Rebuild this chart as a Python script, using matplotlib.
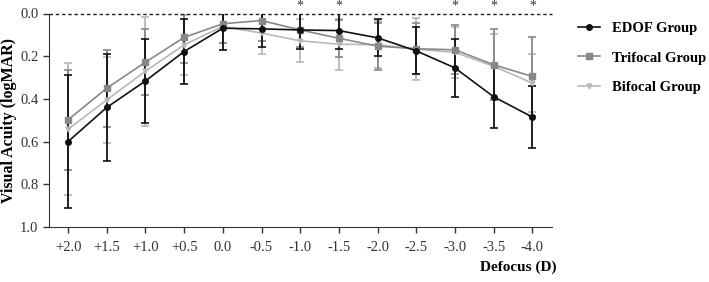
import matplotlib
matplotlib.use("Agg")
import matplotlib.pyplot as plt
from matplotlib.lines import Line2D
import numpy as np

plt.rcParams["font.family"] = ["Liberation Serif", "DejaVu Serif"]

defocus = ["+2.0", "+1.5", "+1.0", "+0.5", "0.0", "-0.5", "-1.0",
           "-1.5", "-2.0", "-2.5", "-3.0", "-3.5", "-4.0"]

edof_mean = [0.60, 0.44, 0.316, 0.178, 0.069, 0.072, 0.077, 0.080, 0.114, 0.175, 0.255, 0.39, 0.485]
edof_sd = [0.31, 0.25, 0.197, 0.152, 0.10, 0.087, 0.09, 0.087, 0.086, 0.11, 0.137, 0.147, 0.145]

tri_mean = [0.498, 0.35, 0.228, 0.112, 0.048, 0.033, 0.077, 0.116, 0.153, 0.165, 0.17, 0.24, 0.295]
tri_sd = [0.235, 0.18, 0.156, 0.12, 0.09, 0.095, 0.08, 0.086, 0.11, 0.12, 0.114, 0.167, 0.185]

bi_mean = [0.542, 0.405, 0.27, 0.147, 0.06, 0.092, 0.128, 0.144, 0.146, 0.167, 0.182, 0.247, 0.326]
bi_sd = [0.31, 0.20, 0.255, 0.14, 0.08, 0.10, 0.10, 0.12, 0.11, 0.144, 0.12, 0.15, 0.134]

significant = ["-1.0", "-1.5", "-3.0", "-3.5", "-4.0"]

fig = plt.figure(figsize=(7.09, 2.82), dpi=100)
ax = fig.add_axes([48.7 / 709, 1 - 227 / 282, (551.7 - 48.7) / 709, (227 - 13.5) / 282])

x = np.arange(len(defocus))
groups = [
    ("Bifocal Group", bi_mean, bi_sd, "#b8b8b8", "v", 3.5),
    ("Trifocal Group", tri_mean, tri_sd, "#888888", "s", 4),
    ("EDOF Group", edof_mean, edof_sd, "#111111", "o", 4),
]
for name, m, sd, col, mk, ms in groups:
    ax.errorbar(x, m, yerr=sd, color=col, marker=mk, markersize=ms,
                linewidth=1.2, elinewidth=1.3, capsize=3, capthick=1.2)

ax.set_xlim(-0.5, 12.5)
ax.set_ylim(1.0, 0.0)
ax.set_yticks([0.0, 0.2, 0.4, 0.6, 0.8, 1.0])
ax.set_yticklabels(["0.0", "0.2", "0.4", "0.6", "0.8", "1.0"])
ax.set_xticks(x)
ax.set_xticklabels(defocus)
ax.tick_params(labelsize=10.5, width=1, length=4, color="#333333", labelcolor="#333333")
ax.tick_params(axis="x", pad=6)

ax.spines["top"].set_visible(False)
ax.spines["right"].set_visible(False)
ax.spines["left"].set_color("#333333")
ax.spines["bottom"].set_color("#333333")
ax.axhline(0.0, color="#222222", linestyle=(0, (2.5, 2)), linewidth=1, clip_on=False)

for lab in significant:
    ax.text(defocus.index(lab), -0.035, "*", ha="center", va="center",
            fontsize=10, color="#333333", clip_on=False)

ax.set_ylabel("Visual Acuity (logMAR)", fontsize=11.5, fontweight="bold", labelpad=2)
fig.text(557 / 709, 1 - 267 / 282, "Defocus (D)", ha="right", va="center",
         fontsize=11, fontweight="bold")

handles = [Line2D([], [], color=c, marker=mk, markersize=ms, linewidth=1.2)
           for _, _, _, c, mk, ms in groups[::-1]]
labels = [g[0] for g in groups[::-1]]
fig.legend(handles, labels, loc="upper left", bbox_to_anchor=(565 / 709, 1 - 9 / 282),
           frameon=False, handlelength=1.5, handletextpad=0.85, labelspacing=1.1,
           prop={"size": 10.5, "weight": "bold"})

fig.savefig("out.png", dpi=100)
